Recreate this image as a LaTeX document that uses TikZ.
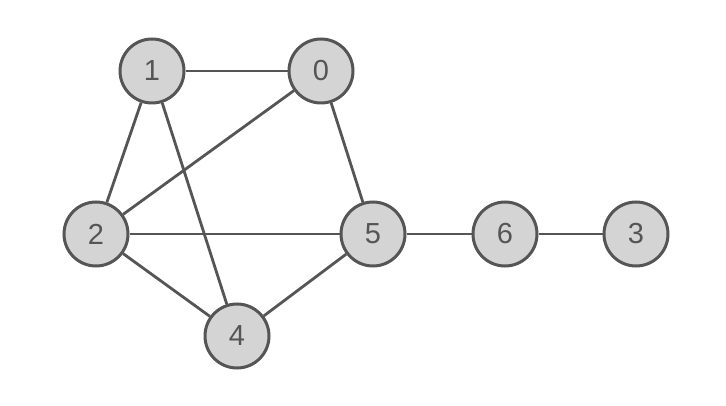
\documentclass[tikz,border=0pt]{standalone}
\usepackage{fontspec}
\setmainfont{Liberation Sans}
\definecolor{edgec}{HTML}{555555}
\definecolor{fillc}{HTML}{D4D4D4}
\begin{document}
\begin{tikzpicture}[x=1pt,y=-1pt,
  vert/.style={circle,draw=edgec,fill=fillc,line width=3pt,minimum size=64pt,inner sep=0pt,
    font=\fontsize{29}{29}\selectfont,text=edgec},
  edge/.style={draw=edgec,line width=2.8pt}]
\useasboundingbox (0,0) rectangle (726,406);
\node[vert] (n1) at (152,71) {1};
\node[vert] (n0) at (321,71) {0};
\node[vert] (n2) at (96,234) {2};
\node[vert] (n5) at (373,234) {5};
\node[vert] (n6) at (505,234) {6};
\node[vert] (n3) at (636,234) {3};
\node[vert] (n4) at (237,336) {4};
\path[edge] (n1) -- (n0);
\path[edge] (n1) -- (n2);
\path[edge] (n1) -- (n4);
\path[edge] (n0) -- (n2);
\path[edge] (n0) -- (n5);
\path[edge] (n2) -- (n5);
\path[edge] (n2) -- (n4);
\path[edge] (n5) -- (n4);
\path[edge] (n5) -- (n6);
\path[edge] (n6) -- (n3);
\end{tikzpicture}
\end{document}
